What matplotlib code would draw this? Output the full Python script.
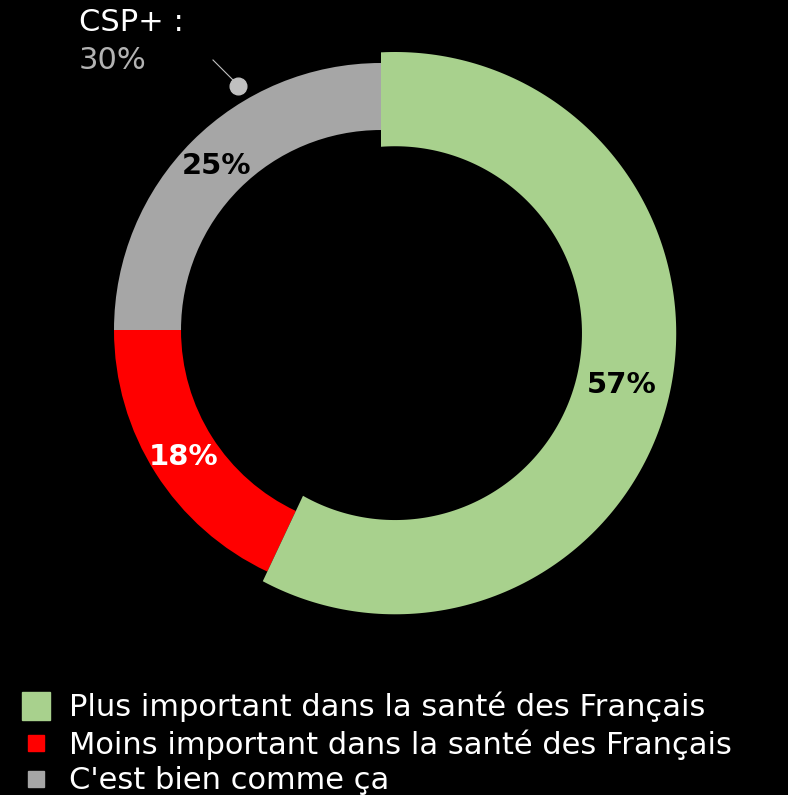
import numpy as np
import matplotlib.pyplot as plt
from matplotlib.lines import Line2D
from matplotlib.patches import Polygon

# data
labels = ['Plus important dans la santé des Français',
          'Moins important dans la santé des Français',
          "C'est bien comme ça"]
values = [57, 18, 25]
colors = ['#a8d18d', '#ff0000', '#a6a6a6']
label_colors = ['black', 'white', 'black']
csp_label = 'CSP+ :'
csp_value = '30%'

W, H = 788, 795
scale = 267.0          # pixels per data unit (ring outer radius)
cx, cy = 381, 330      # pie centre in pixels


def px(x, y):
    # pixel position -> data coordinates
    return (x - cx) / scale, (cy - y) / scale


fig = plt.figure(figsize=(W / 100, H / 100), dpi=100, facecolor='black')
ax = fig.add_axes([0, 0, 1, 1])
ax.set_facecolor('black')

wedges, _ = ax.pie(values, colors=colors, startangle=90, counterclock=False,
                   radius=1.0, wedgeprops=dict(width=0.251, linewidth=0))

# highlighted slice: pulled out and thicker, edges kept on the original rays
frac = np.array(values) / sum(values)
a1 = 90 - 360 * frac[0]
a2 = 90
mid = np.deg2rad((a1 + a2) / 2)
off = 0.054 * np.array([np.cos(mid), np.sin(mid)])
r_out, r_in = 1.053, 0.70


def ray_hit(a, r):
    u = np.array([np.cos(a), np.sin(a)])
    uc = u @ off
    t = uc + np.sqrt(uc ** 2 - off @ off + r ** 2)
    return t * u


angs = np.deg2rad(np.linspace(a1, a2, 200))
outer = [ray_hit(a, r_out) for a in angs]
inner = [ray_hit(a, r_in) for a in angs[::-1]]
wedges[0].set_visible(False)
ax.add_patch(Polygon(outer + inner, closed=True, facecolor=colors[0],
                     edgecolor='none', zorder=3))

# percentage labels
pos = [(622, 385), (184, 457), (216, 166)]
for v, p, c in zip(values, pos, label_colors):
    ax.text(*px(*p), f'{v}%', color=c, fontsize=21, fontweight='bold',
            ha='center', va='center', zorder=5)

# CSP+ callout
ax.text(*px(79, 31), csp_label, color='white', fontsize=22,
        ha='left', va='baseline')
ax.text(*px(79, 69), csp_value, color='#b3b3b3', fontsize=22,
        ha='left', va='baseline')
lx, ly = zip(px(213, 60), px(238, 85))
ax.plot(lx, ly, color='#c0c0c0', linewidth=0.8)
ax.plot(*px(238, 86), marker='o', markersize=12, color='#c0c0c0')

ax.set_xlim(-cx / scale, (W - cx) / scale)
ax.set_ylim(-(H - cy) / scale, cy / scale)
ax.set_aspect('auto')
ax.axis('off')

# legend
sizes = [19.5, 12, 12]
handles = [Line2D([], [], marker='s', linestyle='none', markersize=s,
                  markerfacecolor=c, markeredgecolor=c) for s, c in zip(sizes, colors)]
leg = fig.legend(handles, labels, loc='upper left',
                 bbox_to_anchor=(20.5 / W, 1 - 692 / H), frameon=False,
                 fontsize=22, labelcolor='white', borderpad=0, borderaxespad=0,
                 handlelength=1.0, handletextpad=0.59, labelspacing=0.22)

fig.savefig('out.png', dpi=100, facecolor='black')
